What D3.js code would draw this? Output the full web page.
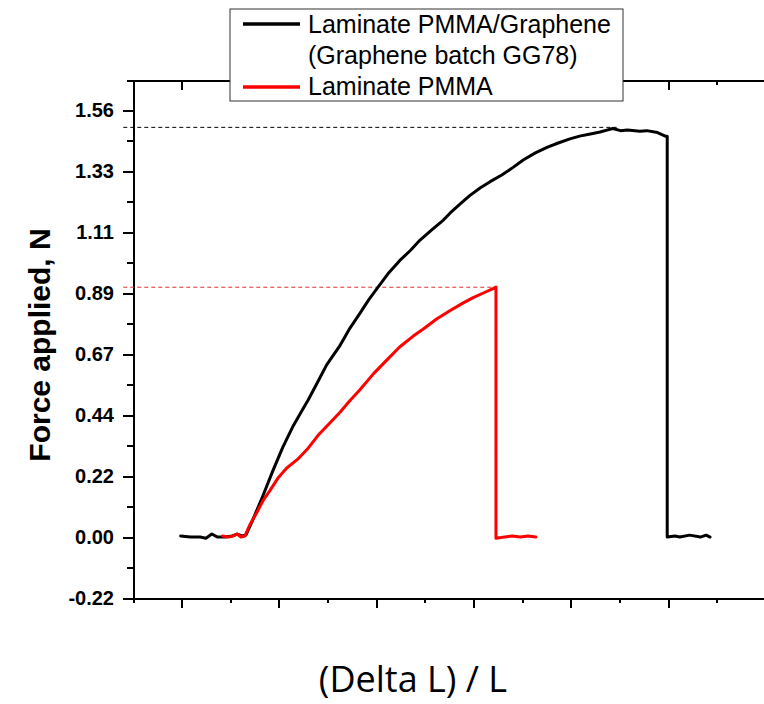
<!DOCTYPE html>
<html lang="en">
  <head>
    <meta charset="UTF-8" />
    <title>Force vs strain</title>
    <script src="https://d3js.org/d3.v7.min.js"></script>
    <style>
      body {
        margin: 0;
        background: #fff;
        font-family: Arial, "Liberation Sans", sans-serif;
      }
      .axis path,
      .axis line {
        stroke: #000;
        stroke-width: 2px;
        shape-rendering: crispEdges;
      }
      .axis text {
        font-family: Arial, "Liberation Sans", sans-serif;
        font-weight: bold;
        font-size: 20px;
        fill: #000;
      }
      .curve {
        fill: none;
        stroke-width: 3px;
        stroke-linejoin: round;
        stroke-linecap: round;
      }
    </style>
  </head>
  <body>
    <script>
      // strain (arbitrary units) and force (N)
      var blackStrain = [
        0.99, 1.09, 1.19, 1.25, 1.31, 1.37, 1.45, 1.52, 1.57, 1.62,
        1.66, 1.73, 1.83, 1.94, 2.04, 2.14, 2.24, 2.30, 2.39, 2.49,
        2.63, 2.73, 2.83, 2.92, 3.02, 3.12, 3.24, 3.35, 3.45, 3.57,
        3.69, 3.76, 3.86, 3.96, 4.07, 4.17, 4.29, 4.41, 4.51, 4.63,
        4.76, 4.87, 4.99, 5.09, 5.20, 5.30, 5.37, 5.43, 5.51, 5.58,
        5.71, 5.78, 5.89, 5.97, 5.99, 5.99, 6.07, 6.12, 6.22, 6.33,
        6.39, 6.43
      ];
      var blackForce = [
        0.004, 0.0, 0.0, -0.004, 0.011, 0.0, 0.0, 0.004, 0.011, 0.004,
        0.007, 0.062, 0.146, 0.244, 0.328, 0.401, 0.463, 0.5, 0.56, 0.628,
        0.7, 0.762, 0.815, 0.864, 0.912, 0.96, 1.008, 1.045, 1.083, 1.12,
        1.156, 1.182, 1.214, 1.245, 1.274, 1.296, 1.32, 1.349, 1.375, 1.4,
        1.422, 1.437, 1.452, 1.462, 1.47, 1.477, 1.484, 1.49, 1.482, 1.484,
        1.48, 1.482, 1.475, 1.462, 1.462, 0.0, 0.004, 0.0, 0.007, 0.0,
        0.007, 0.0
      ];
      var redStrain = [
        1.42, 1.48, 1.53, 1.57, 1.61, 1.65, 1.70, 1.77, 1.84, 1.91,
        1.99, 2.08, 2.19, 2.29, 2.40, 2.53, 2.63, 2.73, 2.83, 2.97,
        3.11, 3.24, 3.38, 3.48, 3.62, 3.76, 3.89, 3.99, 4.10, 4.20,
        4.23, 4.23, 4.32, 4.40, 4.48, 4.56, 4.64
      ];
      var redForce = [
        0.004, 0.0, 0.004, 0.011, 0.0, 0.004, 0.044, 0.088, 0.135, 0.171,
        0.215, 0.252, 0.283, 0.32, 0.37, 0.419, 0.456, 0.498, 0.536, 0.595,
        0.646, 0.693, 0.733, 0.758, 0.795, 0.826, 0.853, 0.872, 0.89, 0.906,
        0.912, -0.004, 0.0, 0.004, 0.0, 0.004, 0.0
      ];

      // peak guide lines (force level, strain start, strain end)
      var peakBlack = [1.494, 0.4, 5.47];
      var peakRed = [0.911, 0.4, 4.21];

      var yMajor = [-2, 0, 2, 4, 6, 8, 10, 12, 14].map(function (k) { return k / 9; });
      var yMinor = [-1, 1, 3, 5, 7, 9, 11, 13, 15].map(function (k) { return k / 9; });
      var xMajor = [1, 2, 3, 4, 5, 6];
      var xMinor = [0.5, 1.5, 2.5, 3.5, 4.5, 5.5, 6.5];

      var legendLabels = [
        ["Laminate PMMA/Graphene", "(Graphene batch GG78)"],
        ["Laminate PMMA"]
      ];
      var colors = ["#000000", "#ff0000"];

      var width = 764, height = 704;

      var svg = d3.select("body").append("svg")
        .attr("width", width)
        .attr("height", height);

      var x = d3.scaleLinear().domain([0.5, 7]).range([133, 765.5]);
      var y = d3.scaleLinear().domain([-2 / 9, 15 / 9]).range([598, 80]);

      // axes
      svg.append("g").attr("class", "axis")
        .attr("transform", "translate(0,598)")
        .call(d3.axisBottom(x).tickValues(xMajor).tickFormat("").tickSize(10).tickSizeOuter(0));
      svg.append("g").attr("class", "axis")
        .attr("transform", "translate(0,598)")
        .call(d3.axisBottom(x).tickValues(xMinor).tickFormat("").tickSize(5).tickSizeOuter(0));

      svg.append("g").attr("class", "axis")
        .attr("transform", "translate(0,80)")
        .call(d3.axisBottom(x).tickValues(xMajor).tickFormat("").tickSize(10).tickSizeOuter(0));
      svg.append("g").attr("class", "axis")
        .attr("transform", "translate(0,80)")
        .call(d3.axisBottom(x).tickValues(xMinor).tickFormat("").tickSize(5).tickSizeOuter(0));

      svg.append("g").attr("class", "axis")
        .attr("transform", "translate(133,0)")
        .call(d3.axisLeft(y).tickValues(yMinor).tickFormat("").tickSize(6).tickSizeOuter(0));
      svg.append("g").attr("class", "axis")
        .attr("transform", "translate(133,0)")
        .call(d3.axisLeft(y).tickValues(yMajor).tickSize(10).tickSizeOuter(0).tickPadding(9)
          .tickFormat(function (d) { return (Math.abs(d) < 1e-9 ? 0 : d).toFixed(2); }));

      // dashed peak guides
      [peakBlack, peakRed].forEach(function (p, i) {
        svg.append("line")
          .attr("x1", x(p[1])).attr("x2", x(p[2]))
          .attr("y1", y(p[0])).attr("y2", y(p[0]))
          .attr("stroke", i === 0 ? "#000" : "#e03030")
          .attr("stroke-width", 1)
          .attr("stroke-dasharray", "4,3");
      });

      var line = d3.line()
        .x(function (d) { return x(d[0]); })
        .y(function (d) { return y(d[1]); });

      svg.append("path").attr("class", "curve")
        .attr("stroke", colors[0])
        .attr("d", line(d3.zip(blackStrain, blackForce)));
      svg.append("path").attr("class", "curve")
        .attr("stroke", colors[1])
        .attr("d", line(d3.zip(redStrain, redForce)));

      // legend
      var lg = svg.append("g").attr("transform", "translate(230,9)");
      lg.append("rect")
        .attr("width", 393).attr("height", 92)
        .attr("fill", "#fff").attr("stroke", "#333").attr("stroke-width", 1);
      var rows = [[15, 24, legendLabels[0][0]], [null, 55, legendLabels[0][1]], [78, 86, legendLabels[1][0]]];
      rows.forEach(function (r, i) {
        if (r[0] !== null) {
          lg.append("line")
            .attr("x1", 13).attr("x2", 70)
            .attr("y1", r[0]).attr("y2", r[0])
            .attr("stroke", i === 0 ? colors[0] : colors[1])
            .attr("stroke-width", 3.5);
        }
        lg.append("text")
          .attr("x", 78).attr("y", r[1])
          .attr("font-family", "Arial, 'Liberation Sans', sans-serif")
          .attr("font-size", 25)
          .text(r[2]);
      });

      // axis titles
      svg.append("text")
        .attr("transform", "translate(50,345) rotate(-90)")
        .attr("text-anchor", "middle")
        .attr("font-family", "Arial, 'Liberation Sans', sans-serif")
        .attr("font-weight", "bold")
        .attr("font-size", 30)
        .text("Force applied, N");

      svg.append("text")
        .attr("x", 413).attr("y", 692)
        .attr("text-anchor", "middle")
        .attr("font-family", "'Open Sans', sans-serif")
        .attr("font-size", 36)
        .text("(Delta L) / L");
    </script>
  </body>
</html>
